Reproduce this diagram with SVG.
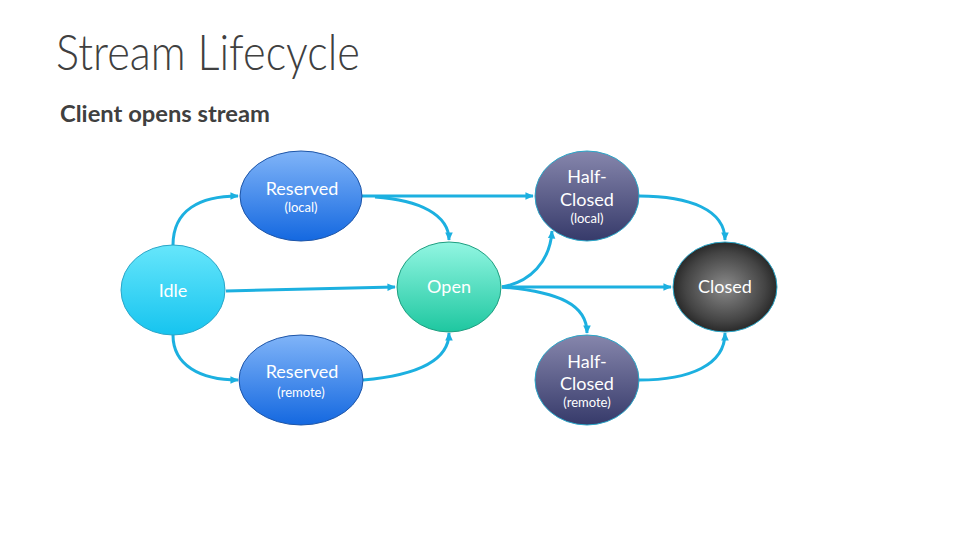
<svg xmlns="http://www.w3.org/2000/svg" width="979" height="551" viewBox="0 0 979 551">
<defs>
<linearGradient id="gIdle" x1="0" y1="0" x2="0" y2="1"><stop offset="0" stop-color="#66e6fb"/><stop offset="1" stop-color="#16c4ef"/></linearGradient>
<linearGradient id="gRes" x1="0" y1="0" x2="0" y2="1"><stop offset="0" stop-color="#80b4f8"/><stop offset="1" stop-color="#1468e0"/></linearGradient>
<linearGradient id="gOpen" x1="0" y1="0" x2="0" y2="1"><stop offset="0" stop-color="#92f6e2"/><stop offset="1" stop-color="#1ec7a0"/></linearGradient>
<linearGradient id="gHalf" x1="0" y1="0" x2="0" y2="1"><stop offset="0" stop-color="#8686ac"/><stop offset="1" stop-color="#363a6a"/></linearGradient>
<radialGradient id="gClosed" cx="0.5" cy="0.5" r="0.55"><stop offset="0" stop-color="#8a8a8a"/><stop offset="0.7" stop-color="#444"/><stop offset="1" stop-color="#1e1e1e"/></radialGradient>
<marker id="ah" viewBox="0 0 10 10" refX="9" refY="5" markerWidth="2.8" markerHeight="2.8" orient="auto" markerUnits="strokeWidth"><path d="M0,0.5 L10,5 L0,9.5 z" fill="#1cb0e0"/></marker>
</defs>
<style>
.title{font-family:Lato,"Open Sans",sans-serif;font-weight:300;fill:#404040}
.sub{font-family:Lato,"Open Sans",sans-serif;font-weight:700;fill:#404040}
.n{font-family:Lato,"Open Sans",sans-serif;fill:#ffffff;text-anchor:middle}
.big{font-size:18px;font-weight:400}
.small{font-size:13px;font-weight:400}
.c{fill:none;stroke:#1cb0e0;stroke-width:3;marker-end:url(#ah)}
</style>
<rect width="979" height="551" fill="#ffffff"/>
<text class="title" x="56" y="70" font-size="50" textLength="304" lengthAdjust="spacingAndGlyphs">Stream Lifecycle</text>
<text class="sub" x="60" y="122" font-size="23.5" textLength="210" lengthAdjust="spacingAndGlyphs">Client opens stream</text>

<g id="connectors">
<path class="c" d="M173,245 C173,210 200,196 238,196"/>
<path class="c" d="M173,335 C173,365 200,380 238,380"/>
<path class="c" d="M226,291 L395,287"/>
<path class="c" d="M362,196 L533,196"/>
<path class="c" d="M375,197 C420,200 449,215 449,240"/>
<path class="c" d="M363,380 C420,375 449,360 449,333"/>
<path class="c" d="M502,287 C530,282 550,262 552,231"/>
<path class="c" d="M502,287 L671,287"/>
<path class="c" d="M502,287 C560,292 587,305 587,333"/>
<path class="c" d="M639,196 C690,196 725,210 725,240"/>
<path class="c" d="M639,380 C690,380 725,365 725,333"/>
</g>

<g id="idle"><ellipse cx="173" cy="290" rx="52" ry="45" fill="url(#gIdle)" stroke="#2aa6c8" stroke-width="1"/><text class="n big" x="173" y="297">Idle</text></g>
<g id="reserved-local"><ellipse cx="301" cy="196" rx="61" ry="45" fill="url(#gRes)" stroke="#1d55a8" stroke-width="1"/><text class="n big" x="302" y="195">Reserved</text><text class="n small" x="301" y="212">(local)</text></g>
<g id="reserved-remote"><ellipse cx="301" cy="380" rx="62" ry="45" fill="url(#gRes)" stroke="#1d55a8" stroke-width="1"/><text class="n big" x="302" y="378">Reserved</text><text class="n small" x="301" y="397">(remote)</text></g>
<g id="open"><ellipse cx="449" cy="287" rx="52" ry="45" fill="url(#gOpen)" stroke="#1e9e80" stroke-width="1"/><text class="n big" x="449" y="293">Open</text></g>
<g id="half-closed-local"><ellipse cx="587" cy="196" rx="52" ry="45" fill="url(#gHalf)" stroke="#2aa6c8" stroke-width="1"/><text class="n big" x="587" y="183">Half-</text><text class="n big" x="587" y="206">Closed</text><text class="n small" x="587" y="223">(local)</text></g>
<g id="half-closed-remote"><ellipse cx="587" cy="380" rx="52" ry="45" fill="url(#gHalf)" stroke="#2aa6c8" stroke-width="1"/><text class="n big" x="587" y="368">Half-</text><text class="n big" x="587" y="390">Closed</text><text class="n small" x="587" y="407">(remote)</text></g>
<g id="closed"><ellipse cx="725" cy="287" rx="52" ry="45" fill="url(#gClosed)" stroke="#2aa6c8" stroke-width="1"/><text class="n big" x="725" y="293">Closed</text></g>
</svg>
